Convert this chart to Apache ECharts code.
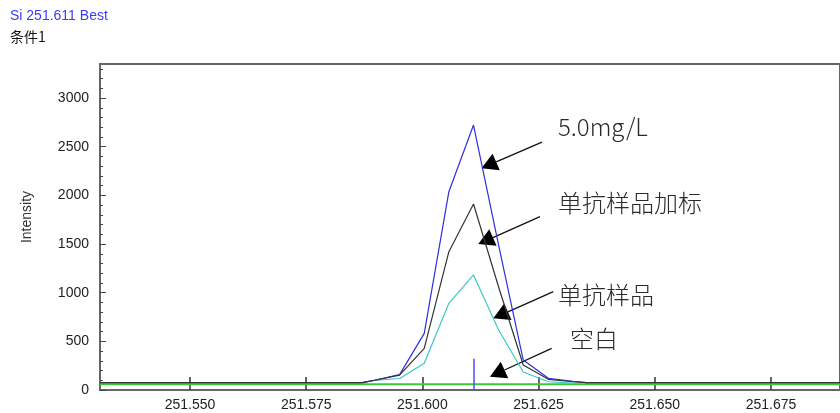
<!DOCTYPE html>
<html>
<head>
<meta charset="utf-8">
<script src="https://cdn.jsdelivr.net/npm/echarts@6/dist/echarts.min.js"></script>
<style>
  html, body { margin: 0; padding: 0; background: #ffffff; }
  #chart { width: 840px; height: 413px; }
</style>
</head>
<body>
<div id="chart"></div>
<script>
// Si 251.611 nm emission line, scanned around the peak
const wavelengths   = [251.5306, 251.5871, 251.5897, 251.5951, 251.6004, 251.6057, 251.6110, 251.6164, 251.6217, 251.6271, 251.6324, 251.6353, 251.6899];
const std5mgL       = [75, 76, 100, 158, 582, 2038, 2723, 1490, 308, 120, 90, 76, 75];
const spikedSample  = [75, 76, 100, 152, 428, 1421, 1911, 1058, 257, 110, 85, 76, 75];
const sample        = [75, 76, 98, 118, 274, 891, 1182, 617, 185, 85, 70, 74, 75];
const blank         = [60, 60, 60, 60, 60, 60, 60, 60, 60, 60, 60, 60, 60];

const xTickValues = [251.550, 251.575, 251.600, 251.625, 251.650, 251.675];
const yTickValues = [0, 500, 1000, 1500, 2000, 2500, 3000];
const yMinorTickValues = [100, 200, 300, 400, 600, 700, 800, 900, 1100, 1200, 1300, 1400, 1600, 1700, 1800, 1900,
                          2100, 2200, 2300, 2400, 2600, 2700, 2800, 2900, 3100, 3200, 3300];

const xMin = 251.53064, xMax = 251.68985;
const yMax = 3350;

const peakWavelength = 251.611;
const peakMarkerTop = 320;

// callouts: label, label anchor [wavelength, intensity], arrow start, arrow tip
const calloutLabels = ['5.0mg/L', '单抗样品加标', '单抗样品', '空白'];
const calloutText   = [[251.62917, 2702], [251.62917, 1921], [251.62917, 976], [251.63176, 524]];
const arrowStart    = [[251.62573, 2548], [251.62530, 1781], [251.62817, 1010], [251.62782, 428]];
const arrowTip      = [[251.61272, 2278], [251.61203, 1500], [251.61525, 737], [251.61454, 137]];

const toPairs = (xs, ys) => xs.map((x, i) => [x, ys[i]]);

const chart = echarts.init(document.getElementById('chart'), null, { renderer: 'canvas' });

const lineSeries = (name, values, color, width) => ({
  name, type: 'line', data: toPairs(wavelengths, values),
  showSymbol: false, symbol: 'none', animation: false,
  lineStyle: { color, width }, itemStyle: { color }
});

const axisFont = { color: '#222222', fontSize: 14, fontFamily: 'Liberation Sans' };

chart.setOption({
  animation: false,
  backgroundColor: '#ffffff',
  title: [
    { text: 'Si 251.611 Best', left: 5, top: 4,
      textStyle: { color: '#3a3aff', fontSize: 14, fontWeight: 'normal', fontFamily: 'Liberation Sans' } },
    { text: '条件1', left: 5, top: 25,
      textStyle: { color: '#111111', fontSize: 14, fontWeight: 'normal', fontFamily: 'Noto Sans CJK SC' } }
  ],
  grid: { left: 100, right: 0, top: 64, bottom: 23, show: true, borderColor: '#666666', borderWidth: 2 },
  xAxis: {
    type: 'value', min: xMin, max: xMax,
    axisLine: { show: true, lineStyle: { color: '#666666', width: 2 } },
    axisTick: { show: true, inside: true, length: 13, customValues: xTickValues, lineStyle: { color: '#333333', width: 1.5 } },
    axisLabel: Object.assign({ customValues: xTickValues, formatter: v => v.toFixed(3), margin: 8 }, axisFont),
    splitLine: { show: false }
  },
  yAxis: [
    {
      type: 'value', min: 0, max: yMax,
      axisLine: { show: true, lineStyle: { color: '#666666', width: 2 } },
      axisTick: { show: true, inside: true, length: 6, customValues: yTickValues, lineStyle: { color: '#444444', width: 1 } },
      axisLabel: Object.assign({ customValues: yTickValues, formatter: v => String(v), margin: 11 }, axisFont),
      splitLine: { show: false }
    },
    {
      type: 'value', min: 0, max: yMax, position: 'left',
      axisLine: { show: false },
      axisTick: { show: true, inside: true, length: 3, customValues: yMinorTickValues, lineStyle: { color: '#444444', width: 1 } },
      axisLabel: { show: false },
      splitLine: { show: false }
    }
  ],
  series: [
    Object.assign(lineSeries('空白', blank, '#3cc83c', 2), {
      markLine: {
        silent: true, symbol: 'none', animation: false, label: { show: false },
        lineStyle: { color: '#4b4bff', width: 1.5, type: 'solid' },
        data: [[{ coord: [peakWavelength, 0] }, { coord: [peakWavelength, peakMarkerTop] }]]
      }
    }),
    lineSeries('单抗样品', sample, '#3cc8c8', 1.2),
    lineSeries('5.0mg/L', std5mgL, '#2f2fe0', 1.2),
    lineSeries('单抗样品加标', spikedSample, '#333333', 1.2)
  ]
});

// axis title and callout arrows with their labels, placed from data coordinates
function drawOverlay() {
  const px = p => chart.convertToPixel({ gridIndex: 0 }, p);
  const elements = [{
    type: 'text', silent: true, x: 27, y: 217, rotation: Math.PI / 2,
    style: { text: 'Intensity', fill: '#333333', font: '14px "Liberation Sans"', textAlign: 'center', textVerticalAlign: 'middle' }
  }];
  calloutLabels.forEach((label, i) => {
    const s = px(arrowStart[i]);
    const t = px(arrowTip[i]);
    const dx = t[0] - s[0], dy = t[1] - s[1];
    const len = Math.hypot(dx, dy);
    const ux = dx / len, uy = dy / len;
    const headLen = 16, headHalf = 9;
    const bx = t[0] - ux * headLen, by = t[1] - uy * headLen;
    elements.push({
      type: 'line', silent: true,
      shape: { x1: s[0], y1: s[1], x2: bx, y2: by },
      style: { stroke: '#111111', lineWidth: 1.3 }
    });
    elements.push({
      type: 'polygon', silent: true,
      shape: { points: [t, [bx - uy * headHalf, by + ux * headHalf], [bx + uy * headHalf, by - ux * headHalf]] },
      style: { fill: '#000000' }
    });
    const tp = px(calloutText[i]);
    elements.push({
      type: 'text', silent: true, x: tp[0], y: tp[1],
      style: { text: label, fill: '#2a2a2a', font: '300 24px "Noto Sans CJK SC"', textAlign: 'left', textVerticalAlign: 'middle' }
    });
  });
  chart.setOption({ graphic: elements });
}
drawOverlay();
</script>
</body>
</html>
